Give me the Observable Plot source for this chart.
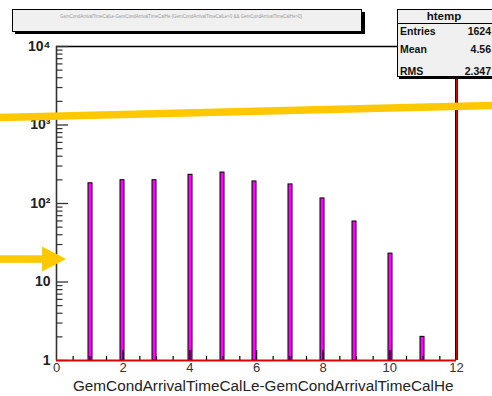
<!DOCTYPE html>
<html>
<head>
<meta charset="utf-8">
<script src="https://cdn.jsdelivr.net/npm/d3@7"></script>
<script src="https://cdn.jsdelivr.net/npm/@observablehq/plot@0.6"></script>
<style>
  html, body { margin: 0; padding: 0; background: #ffffff; }
  #chart { position: relative; width: 492px; height: 396px; overflow: hidden; }
</style>
</head>
<body>
<div id="chart"></div>
<script>
// ---- data ----
const binWidth = 0.12;                        // 100 bins over [0, 12]
const binLow = [0.96, 1.92, 2.88, 3.96, 4.92, 5.88, 6.96, 7.92, 8.88, 9.96, 10.92];
const counts = [181, 198, 198, 232, 248, 191, 175, 116, 59, 23, 2];

const xTickValues = [0, 2, 4, 6, 8, 10, 12];
const xTickLabels = ["0", "2", "4", "6", "8", "10", "12"];
const yTickValues = [1, 10, 100, 1000, 10000];
const yTickLabels = ["1", "10", "10\u00B2", "10\u00B3", "10\u2074"];

const xTitle = "GemCondArrivalTimeCalLe-GemCondArrivalTimeCalHe";
const histTitle = "GemCondArrivalTimeCalLe-GemCondArrivalTimeCalHe {GemCondArrivalTimeCalLe>0 && GemCondArrivalTimeCalHe>0}";
const statsName = "htemp";
const statsLabels = ["Entries", "Mean", "RMS"];
const statsValues = ["1624", "4.56", "2.347"];

// ---- build ----
const bars = binLow.map((lo, i) => ({lo, hi: lo + binWidth, n: counts[i]}));

const W = 492, H = 396;
const mL = 56, mR = 36, mT = 46, mB = 36;
const xDomain = [0, 12], yDomain = [1, 1e4];
const pxPerX = (W - mL - mR) / (xDomain[1] - xDomain[0]);
const pxPerDecade = (H - mT - mB) / Math.log10(yDomain[1] / yDomain[0]);
const xLen = px => px / pxPerX;              // tick length in x units
const yLen = px => Math.pow(10, px / pxPerDecade); // tick top in y units (from 1)

const yMajor = yTickValues;
const yMinor = [];
for (let k = 0; k < 4; k++) for (let m = 2; m <= 9; m++) yMinor.push(m * Math.pow(10, k));
const xMajor = d3.range(2, 12, 2);
const xMinor = d3.range(0.5, 12, 0.5).filter(v => v % 2 !== 0);

const yLabelMap = new Map(yTickValues.map((v, i) => [v, yTickLabels[i]]));
const xLabelMap = new Map(xTickValues.map((v, i) => [v, xTickLabels[i]]));

const plot = Plot.plot({
  width: W, height: H,
  marginLeft: mL, marginRight: mR, marginTop: mT, marginBottom: mB,
  style: {fontFamily: "'Liberation Sans', Arial, Helvetica, sans-serif", background: "transparent", overflow: "visible"},
  x: {domain: xDomain},
  y: {type: "log", domain: yDomain},
  marks: [
    // top frame line
    Plot.ruleY([yDomain[1]], {x1: xDomain[0], x2: xDomain[1], stroke: "#000", strokeWidth: 1.5}),
    // bars
    Plot.rectY(bars, {x1: "lo", x2: "hi", y1: yDomain[0], y2: "n", fill: "#ff00ff", stroke: "#000", strokeWidth: 1}),
    // y ticks (inside, to the right)
    Plot.ruleY(yMajor, {y: d => d, x1: 0, x2: xLen(12), stroke: "#333", strokeWidth: 1.3}),
    Plot.ruleY(yMinor, {y: d => d, x1: 0, x2: xLen(6.5), stroke: "#333", strokeWidth: 1.2}),
    // x ticks (inside, upward)
    Plot.ruleX(xMajor, {x: d => d, y1: yDomain[0], y2: yLen(10), stroke: "#000", strokeWidth: 1.5}),
    Plot.ruleX(xMinor, {x: d => d, y1: yDomain[0], y2: yLen(4), stroke: "#000", strokeWidth: 1.2}),
    // left axis line
    Plot.ruleX([xDomain[0]], {y1: yDomain[0], y2: yDomain[1], stroke: "#333", strokeWidth: 1.6}),
    // red outline along bottom and right edge
    Plot.ruleX([xDomain[1]], {y1: yDomain[0], y2: yDomain[1], stroke: "#000", strokeWidth: 3}),
    Plot.ruleX([xDomain[1]], {y1: yDomain[0], y2: yDomain[1], stroke: "#e00000", strokeWidth: 1.5}),
    Plot.ruleY([yDomain[0]], {x1: xDomain[0], x2: xDomain[1], stroke: "#e00000", strokeWidth: 2}),
    // axes labels
    Plot.axisY({ticks: yTickValues, tickFormat: d => yLabelMap.get(d), tickSize: 0, tickPadding: 6,
      fontSize: 14, fontWeight: "bold", fill: "#222", label: null}),
    Plot.axisX({ticks: xTickValues, tickFormat: d => xLabelMap.get(d), tickSize: 0, tickPadding: 2,
      fontSize: 13, fill: "#333", label: null}),
    Plot.text([xTitle], {frameAnchor: "bottom-right", textAnchor: "end", lineAnchor: "middle", dx: -3, dy: 26,
      fontSize: 15.3, fill: "#222"})
  ]
});

document.getElementById("chart").appendChild(plot);

// ---- overlay: title box, stats box, annotations ----
const svg = d3.select(plot);
const g = svg.append("g").attr("font-family", "'Liberation Sans', Arial, Helvetica, sans-serif");

// title box
g.append("rect").attr("x", 15).attr("y", 12).attr("width", 350).attr("height", 22).attr("fill", "#000");
g.append("rect").attr("x", 12.5).attr("y", 9.5).attr("width", 349).attr("height", 22)
  .attr("fill", "#f0f0f0").attr("stroke", "#000").attr("stroke-width", 1);
g.append("text").attr("x", 181).attr("y", 18).attr("text-anchor", "middle")
  .attr("font-size", 5).attr("fill", "#9a9a9a").attr("textLength", 242).attr("lengthAdjust", "spacingAndGlyphs")
  .text(histTitle);

// stats box
g.append("rect").attr("x", 399).attr("y", 12).attr("width", 100).attr("height", 67).attr("fill", "#000");
g.append("rect").attr("x", 397.5).attr("y", 9.5).attr("width", 100).attr("height", 67)
  .attr("fill", "#f0f0f0").attr("stroke", "#000").attr("stroke-width", 1);
g.append("line").attr("x1", 397.5).attr("x2", 492).attr("y1", 23.5).attr("y2", 23.5)
  .attr("stroke", "#000").attr("stroke-width", 1);
g.append("text").attr("x", 444).attr("y", 20).attr("text-anchor", "middle")
  .attr("font-size", 11.5).attr("font-weight", "bold").attr("fill", "#111").text(statsName);
const rowY = [35, 53, 74.5];
statsLabels.forEach((lab, i) => {
  g.append("text").attr("x", 400).attr("y", rowY[i]).attr("text-anchor", "start").attr("font-size", 10.5)
    .attr("font-weight", "bold").attr("fill", "#111").text(lab);
  g.append("text").attr("x", 491).attr("y", rowY[i]).attr("text-anchor", "end").attr("font-size", 10.5)
    .attr("font-weight", "bold").attr("fill", "#111").text(statsValues[i]);
});

// yellow annotations
const yellow = "#ffc800";
g.append("line").attr("x1", -2).attr("y1", 117.6).attr("x2", 494).attr("y2", 105.5)
  .attr("stroke", yellow).attr("stroke-width", 7.5);
g.append("rect").attr("x", -2).attr("y", 255.3).attr("width", 46).attr("height", 7.5).attr("fill", yellow);
g.append("polygon").attr("points", "42,246.5 66,259 42,271.5").attr("fill", yellow);
</script>
</body>
</html>
